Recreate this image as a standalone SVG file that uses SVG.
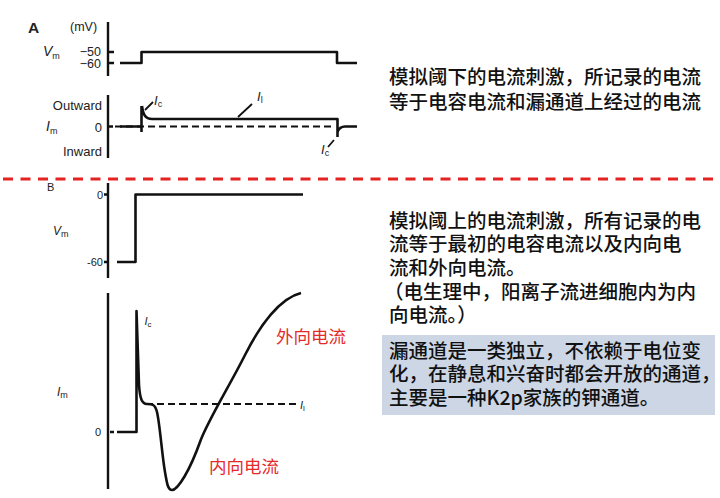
<svg xmlns="http://www.w3.org/2000/svg" width="720" height="498" viewBox="0 0 720 498">
<style>
.bg{fill:#ffffff}
.ax{fill:none;stroke:#111;stroke-width:2.4}
.tr{fill:none;stroke:#111;stroke-width:2.6;stroke-linejoin:round}
.dash{fill:none;stroke:#111;stroke-width:2;stroke-dasharray:7 4}
.lead{stroke:#111;stroke-width:1.8}
.lab{font-family:"Liberation Sans",Arial,sans-serif;font-size:13px;fill:#222}
.sm{font-family:"Liberation Sans",Arial,sans-serif;font-size:11px;fill:#222}
.it{font-style:italic}
.cn{font-family:"Noto Sans CJK SC","Liberation Sans",sans-serif;font-size:19.5px;font-weight:500;fill:#111}
.red{font-family:"Noto Sans CJK SC","Liberation Sans",sans-serif;font-size:17.5px;fill:#e52a2a}
.sep{stroke:#e52222;stroke-width:2.8;stroke-dasharray:10 7.5}
.box{fill:#cdd6e4}
</style>
<rect class="bg" x="0" y="0" width="720" height="498"/>

<g id="panelA">
  <text class="lab" x="28" y="33" style="font-weight:bold;font-size:15.5px">A</text>
  <text class="lab" x="70" y="31" style="font-size:12.5px">(mV)</text>
  <text class="lab" x="43" y="56" style="font-size:14px"><tspan class="it">V</tspan><tspan style="font-size:9px" dy="3">m</tspan></text>
  <text class="lab" x="101" y="56" text-anchor="end" style="font-size:12.5px">−50</text>
  <text class="lab" x="101" y="68" text-anchor="end" style="font-size:12.5px">−60</text>
  <path class="ax" d="M108,22 V76 M108,52 H114 M108,63 H114"/>
  <path class="tr" d="M120,63 H141.5 V52 H337 V63 H357"/>

  <text class="lab" x="102" y="109.5" text-anchor="end">Outward</text>
  <text class="lab" x="46" y="131" style="font-size:14px"><tspan class="it">I</tspan><tspan style="font-size:9px" dy="3">m</tspan></text>
  <text class="lab" x="102" y="131.5" text-anchor="end">0</text>
  <text class="lab" x="102" y="156" text-anchor="end">Inward</text>
  <path class="ax" d="M108,95 V158 M108,126.5 H113"/>
  <path class="dash" d="M115,126.5 H335"/>
  <path class="tr" d="M120,126.5 H141.5 M141.5,106 V132 M142,106 C143,114 145,119 152,119 H337.5 V137 M337.5,132 C339,128 341,126.5 345,126.5 H357"/>
</g>

<g id="panelB">
  <text class="sm" x="47" y="191">B</text>
  <text class="sm" x="103" y="199" text-anchor="end">0</text>
  <text class="sm" x="103" y="266" text-anchor="end">-60</text>
  <text class="lab" x="53" y="235" style="font-size:12px"><tspan class="it">V</tspan><tspan style="font-size:9px" dy="2">m</tspan></text>
  <path class="ax" d="M108,183 V278 M104,194.5 H108 M104,262 H108"/>
  <path class="tr" d="M117,262 H135.5 V194.5 H303"/>

  <text class="lab" x="57" y="396" style="font-size:12px"><tspan class="it">I</tspan><tspan style="font-size:9px" dy="2">m</tspan></text>
  <text class="sm" x="101" y="436" text-anchor="end">0</text>
  <path class="ax" d="M108,293 V489 M110,432 H114"/>
  <path class="dash" d="M146,404 H296"/>
  <path class="tr" d="M117,432 H136.5 V311 L139,385 C140,399 142,404 147,404 C152,404 155,404 157,412 C160,425 162,455 165,472 C167,484 168,490 172,490 C178,490 190,470 200,442 C207,422 230,385 245,355 C260,325 280,298 301,293"/>
</g>

<g id="labels">
  <text class="lab" x="154" y="105"><tspan class="it">I</tspan><tspan style="font-size:9px" dy="2">c</tspan></text>
  <text class="lab" x="257" y="101"><tspan class="it">I</tspan><tspan style="font-size:9px" dy="2">l</tspan></text>
  <text class="lab" x="321" y="154"><tspan class="it">I</tspan><tspan style="font-size:9px" dy="2">c</tspan></text>
  <text class="sm" x="144.5" y="325"><tspan class="it">I</tspan><tspan style="font-size:8px" dy="2">c</tspan></text>
  <text class="sm" x="300" y="409"><tspan class="it">I</tspan><tspan style="font-size:8px" dy="2">l</tspan></text>
  <text class="red" x="276" y="342.5">外向电流</text>
  <text class="red" x="209" y="472.5">内向电流</text>
</g>

<g id="connectors">
  <line class="lead" x1="145" y1="110" x2="153" y2="102"/>
  <line class="lead" x1="238" y1="117" x2="252" y2="104"/>
  <line class="lead" x1="328" y1="147" x2="334" y2="140"/>
</g>

<line id="separator" class="sep" x1="3" y1="179" x2="716" y2="179"/>

<g id="text1">
  <text class="cn" x="389" y="83.5">模拟阈下的电流刺激，所记录的电流</text>
  <text class="cn" x="389" y="108.5">等于电容电流和漏通道上经过的电流</text>
</g>

<g id="text2">
  <text class="cn" x="389" y="227.5">模拟阈上的电流刺激，所有记录的电</text>
  <text class="cn" x="389" y="251">流等于最初的电容电流以及内向电</text>
  <text class="cn" x="389" y="274.5">流和外向电流。</text>
  <text class="cn" x="384" y="298.5">（电生理中，阳离子流进细胞内为内</text>
  <text class="cn" x="389" y="322">向电流。）</text>
</g>

<g id="note">
  <rect class="box" x="382" y="335" width="333" height="80"/>
  <text class="cn" x="389" y="357.5">漏通道是一类独立，不依赖于电位变</text>
  <text class="cn" x="389" y="381">化，在静息和兴奋时都会开放的通道，</text>
  <text class="cn" x="389" y="404.5">主要是一种K2p家族的钾通道。</text>
</g>
</svg>
